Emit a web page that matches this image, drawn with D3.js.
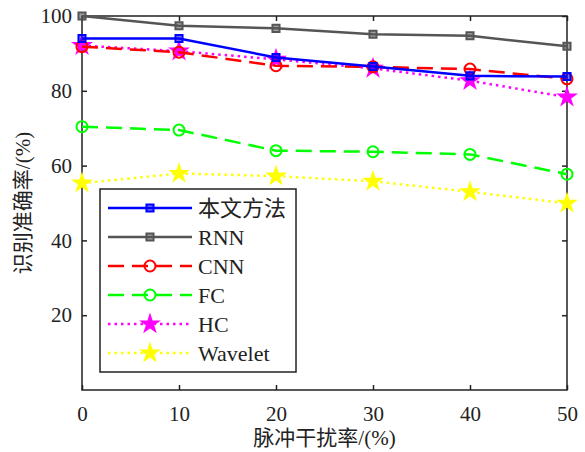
<!DOCTYPE html>
<html>
<head>
<meta charset="utf-8">
<script src="https://cdn.jsdelivr.net/npm/d3@7"></script>
<style>
  body { margin: 0; background: #fff; }
  text { font-family: "Liberation Serif", "Noto Sans CJK SC", serif; fill: #222; }
</style>
</head>
<body>
<svg width="585" height="452"></svg>
<script>
// data
let rates = [0, 10, 20, 30, 40, 50];
let ours    = [94.0, 94.0, 88.9, 86.5, 84.0, 83.8];
let rnn     = [100, 97.4, 96.7, 95.1, 94.7, 91.9];
let cnn     = [91.8, 90.3, 86.7, 86.4, 85.8, 83.2];
let fc      = [70.4, 69.5, 64.0, 63.7, 63.0, 57.7];
let hc      = [92.1, 90.6, 88.4, 86.0, 82.7, 78.3];
let wavelet = [55.3, 57.9, 57.2, 55.8, 53.0, 49.9];
let names = ['本文方法', 'RNN', 'CNN', 'FC', 'HC', 'Wavelet'];
let yTicks = [20, 40, 60, 80, 100];

let series = [
  {name: names[0], vals: ours,    color: '#0000ff', dash: null,    marker: 'square', w: 2.5},
  {name: names[1], vals: rnn,     color: '#555555', dash: null,    marker: 'square', w: 2.5},
  {name: names[2], vals: cnn,     color: '#ff0000', dash: '16,8',  marker: 'circle', w: 2.5},
  {name: names[3], vals: fc,      color: '#00ff00', dash: '16,8',  marker: 'circle', w: 2.5},
  {name: names[4], vals: hc,      color: '#ff00ff', dash: '2.5,4', marker: 'star',   w: 2.5},
  {name: names[5], vals: wavelet, color: '#ffff00', dash: '2.5,4', marker: 'star',   w: 2.5}
];

let margin = {left: 82, top: 16, right: 18, bottom: 62};
const width = 585 - margin.left - margin.right;
const height = 452 - margin.top - margin.bottom;

let svg = d3.select('svg');
let g = svg.append('g').attr('transform', `translate(${margin.left},${margin.top})`);

let xScale = d3.scaleLinear().domain([0, 50]).range([0, width]);
let yScale = d3.scaleLinear().domain([0, 100]).range([height, 0]);

// axes, ticks pointing inward
g.append('g')
  .attr('transform', `translate(0,${height})`)
  .call(d3.axisBottom(xScale).tickValues(rates).tickSizeInner(-5).tickSizeOuter(0).tickPadding(16))
  .call(a => a.select('.domain').remove())
  .selectAll('text').style('font-size', '21px');
g.append('g')
  .call(d3.axisTop(xScale).tickValues(rates).tickSizeInner(-5).tickSizeOuter(0).tickFormat(''))
  .call(a => a.select('.domain').remove());
g.append('g')
  .call(d3.axisLeft(yScale).tickValues(yTicks).tickSizeInner(-5).tickSizeOuter(0).tickPadding(10))
  .call(a => a.select('.domain').remove())
  .selectAll('text').style('font-size', '21px');
g.append('g')
  .attr('transform', `translate(${width},0)`)
  .call(d3.axisRight(yScale).tickValues(yTicks).tickSizeInner(-5).tickSizeOuter(0).tickFormat(''))
  .call(a => a.select('.domain').remove());
g.selectAll('.tick line').attr('stroke', '#222').attr('stroke-width', 1.5);

g.append('rect')
  .attr('width', width).attr('height', height)
  .attr('fill', 'none').attr('stroke', '#222').attr('stroke-width', 1.5);

let line = d3.line().x((d, i) => xScale(rates[i])).y(d => yScale(d));
let starSym = d3.symbol().type(d3.symbolStar).size(150);
let sqSym = d3.symbol().type(d3.symbolSquare).size(50);

function drawMarker(sel, s) {
  if (s.marker === 'star') {
    sel.append('path').attr('d', starSym).attr('fill', s.color);
  } else if (s.marker === 'square') {
    sel.append('path').attr('d', sqSym)
      .attr('fill', s.color).attr('fill-opacity', 0.55)
      .attr('stroke', s.color).attr('stroke-width', 2);
  } else {
    sel.append('circle').attr('r', 5.5)
      .attr('fill', 'none').attr('stroke', s.color).attr('stroke-width', 2);
  }
}

// draw in reverse so the proposed method sits on top
series.slice().reverse().forEach(s => {
  g.append('path')
    .datum(s.vals)
    .attr('d', line)
    .attr('fill', 'none')
    .attr('stroke', s.color)
    .attr('stroke-width', s.w)
    .attr('stroke-dasharray', s.dash);
  s.vals.forEach((v, i) => {
    let m = g.append('g').attr('transform', `translate(${xScale(rates[i])},${yScale(v)})`);
    drawMarker(m, s);
  });
});

// legend
let legend = svg.append('g').attr('transform', 'translate(100,189)');
legend.append('rect')
  .attr('width', 196).attr('height', 183)
  .attr('fill', '#fff').attr('stroke', '#222').attr('stroke-width', 1.5);
series.forEach((s, i) => {
  let row = legend.append('g').attr('transform', `translate(0,${19 + i * 29})`);
  row.append('line')
    .attr('x1', 8).attr('x2', 92)
    .attr('stroke', s.color).attr('stroke-width', s.w)
    .attr('stroke-dasharray', s.dash);
  let m = row.append('g').attr('transform', 'translate(50,0)');
  drawMarker(m, s);
  row.append('text')
    .attr('x', 98).attr('y', 8)
    .style('font-size', '22px')
    .text(s.name);
});

// axis titles
svg.append('text')
  .attr('x', margin.left + width / 2).attr('y', 445)
  .attr('text-anchor', 'middle')
  .style('font-size', '21px')
  .text('脉冲干扰率/(%)');
svg.append('text')
  .attr('transform', `translate(30,${margin.top + height / 2}) rotate(-90)`)
  .attr('text-anchor', 'middle')
  .style('font-size', '21px')
  .text('识别准确率/(%)');
</script>
</body>
</html>
